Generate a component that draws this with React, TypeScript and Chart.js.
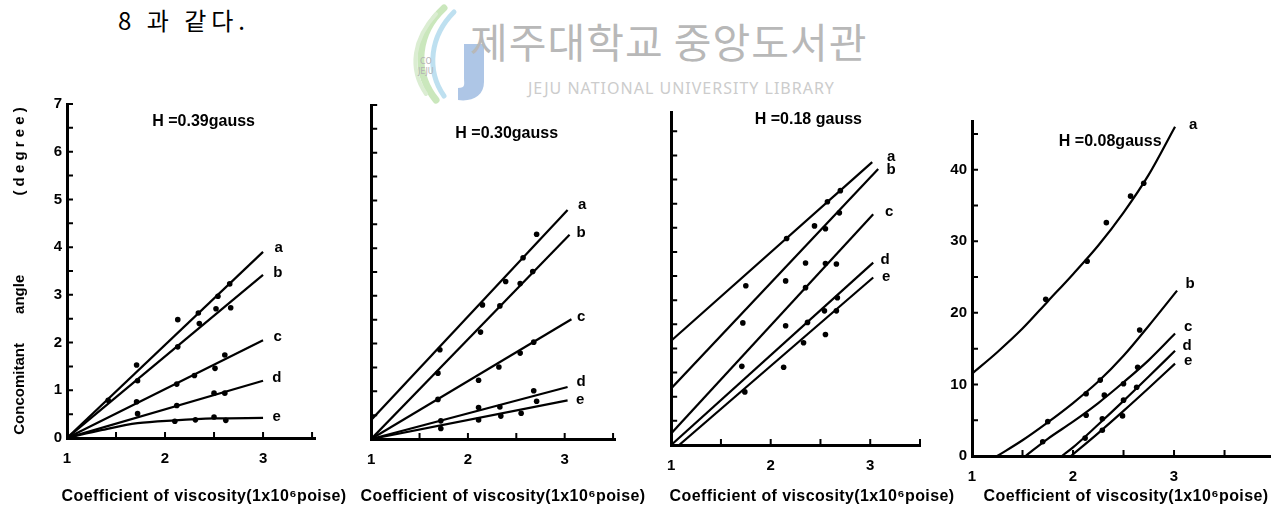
import React, { useEffect, useRef } from 'react';
import { Chart, registerables } from 'chart.js';

Chart.register(...registerables);

type Pt = [number, number];

const FONT = '"Liberation Sans", Arial, Helvetica, sans-serif';

const seriesNames = ['a', 'b', 'c', 'd', 'e'];
const xLabelValues = [1, 2, 3];
const xCaption = 'Coefficient of viscosity(1x10⁶poise)';
const yCaption = 'Concomitant' + ' '.repeat(7) + 'angle' + ' '.repeat(19) + '( d e g r e e )';
const headerText = '8 과 같다.';
const watermarkKo = '제주대학교 중앙도서관';
const watermarkEn = 'JEJU NATIONAL UNIVERSITY LIBRARY';

// ---------- H = 0.39 gauss ----------
const h039Note = 'H =0.39gauss';
const h039PtsA: Pt[] = [[1.42, 0.79], [1.71, 1.53], [2.13, 2.48], [2.34, 2.62], [2.54, 2.97], [2.66, 3.23]];
const h039PtsB: Pt[] = [[1.72, 1.2], [2.13, 1.91], [2.35, 2.4], [2.52, 2.71], [2.67, 2.73]];
const h039PtsC: Pt[] = [[1.71, 0.76], [2.12, 1.13], [2.3, 1.31], [2.51, 1.46], [2.61, 1.74]];
const h039PtsD: Pt[] = [[1.72, 0.51], [2.12, 0.68], [2.5, 0.94], [2.61, 0.94]];
const h039PtsE: Pt[] = [[2.1, 0.35], [2.31, 0.38], [2.5, 0.44], [2.62, 0.37]];
const h039FitA: Pt[] = [[1, 0], [3, 3.9]];
const h039FitB: Pt[] = [[1, 0], [3, 3.42]];
const h039FitC: Pt[] = [[1, 0], [3, 2.05]];
const h039FitD: Pt[] = [[1, 0], [3, 1.2]];
const h039FitE: Pt[] = [[1, 0], [1.36, 0.17], [1.72, 0.31], [2.1, 0.37], [2.5, 0.41], [3, 0.42]];
const h039LabelX = [3.16, 3.15, 3.15, 3.14, 3.14];
const h039LabelY = [3.98, 3.47, 2.13, 1.25, 0.45];

// ---------- H = 0.30 gauss ----------
const h030Note = 'H =0.30gauss';
const h030PtsA: Pt[] = [[1.71, 1.87], [2.15, 2.81], [2.39, 3.3], [2.57, 3.8], [2.71, 4.29]];
const h030PtsB: Pt[] = [[1.69, 1.38], [2.13, 2.24], [2.33, 2.79], [2.54, 3.26], [2.67, 3.51]];
const h030PtsC: Pt[] = [[1.69, 0.83], [2.11, 1.23], [2.32, 1.51], [2.54, 1.8], [2.68, 2.03]];
const h030PtsD: Pt[] = [[1.72, 0.38], [2.11, 0.66], [2.33, 0.67], [2.68, 1.01]];
const h030PtsE: Pt[] = [[1.72, 0.22], [2.11, 0.4], [2.34, 0.48], [2.55, 0.54], [2.71, 0.79]];
const h030FitA: Pt[] = [[1, 0.4], [3.03, 4.8]];
const h030FitB: Pt[] = [[1, 0], [3.05, 4.28]];
const h030FitC: Pt[] = [[1, 0], [3.07, 2.51]];
const h030FitD: Pt[] = [[1, 0], [3.03, 1.09]];
const h030FitE: Pt[] = [[1, 0], [3.03, 0.81]];
const h030LabelX = [3.18, 3.17, 3.17, 3.17, 3.16];
const h030LabelY = [4.9, 4.32, 2.56, 1.19, 0.81];

// ---------- H = 0.18 gauss ----------
const h018Note = 'H =0.18 gauss';
const h018PtsA: Pt[] = [[1.75, 3.3], [2.16, 4.28], [2.44, 4.54], [2.57, 5.04], [2.7, 5.27]];
const h018PtsB: Pt[] = [[1.72, 2.53], [2.15, 3.4], [2.35, 3.77], [2.55, 4.48], [2.69, 4.81]];
const h018PtsC: Pt[] = [[1.71, 1.63], [2.15, 2.47], [2.35, 3.26], [2.55, 3.76], [2.66, 3.75]];
const h018PtsD: Pt[] = [[2.37, 2.54], [2.54, 2.78], [2.67, 3.05]];
const h018PtsE: Pt[] = [[1.74, 1.1], [2.13, 1.61], [2.33, 2.12], [2.55, 2.29], [2.66, 2.78]];
const h018FitA: Pt[] = [[1, 2.16], [3.02, 5.86]];
const h018FitB: Pt[] = [[1, 1.17], [3.08, 5.72]];
const h018FitC: Pt[] = [[1, 0.24], [3.03, 4.78]];
const h018FitD: Pt[] = [[1, 0], [3.03, 3.78]];
const h018FitE: Pt[] = [[1.08, 0], [3.03, 3.47]];
const h018LabelX = [3.21, 3.21, 3.19, 3.15, 3.16];
const h018LabelY = [5.98, 5.7, 4.83, 3.83, 3.48];

// ---------- H = 0.08 gauss ----------
const h008Note = 'H =0.08gauss';
const h008PtsA: Pt[] = [[1.73, 21.9], [2.14, 27.2], [2.33, 32.6], [2.57, 36.3], [2.7, 38.1]];
const h008PtsB: Pt[] = [[1.75, 4.8], [2.13, 8.7], [2.27, 10.6], [2.66, 17.6]];
const h008PtsC: Pt[] = [[1.7, 2.0], [2.13, 5.7], [2.31, 8.5], [2.5, 10.1], [2.64, 12.4]];
const h008PtsD: Pt[] = [[2.12, 2.5], [2.29, 5.2], [2.5, 7.8], [2.63, 9.6]];
const h008PtsE: Pt[] = [[2.29, 3.6], [2.49, 5.6]];
const h008FitA: Pt[] = [[1, 11.5], [1.25, 14.5], [1.5, 17.8], [1.75, 21.6], [2.0, 25.4], [2.25, 29.4], [2.5, 34.0], [2.75, 39.3], [3.01, 46.0]];
const h008FitB: Pt[] = [[1.25, 0], [1.5, 2.2], [1.75, 4.7], [2.0, 7.4], [2.25, 10.4], [2.5, 14.0], [2.75, 18.2], [3.03, 23.1]];
const h008FitC: Pt[] = [[1.53, 0], [1.75, 2.4], [2.0, 4.8], [2.25, 7.4], [2.5, 10.3], [2.75, 13.4], [3.01, 17.1]];
const h008FitD: Pt[] = [[1.89, 0], [2.0, 1.2], [2.25, 4.4], [2.5, 7.7], [2.75, 11.1], [3.01, 14.7]];
const h008FitE: Pt[] = [[1.98, 0], [2.25, 3.2], [2.5, 6.3], [2.75, 9.5], [3.01, 12.9]];
const h008LabelX = [3.19, 3.16, 3.14, 3.13, 3.14];
const h008LabelY = [46.3, 24, 18, 15.4, 13.3];

interface PanelCfg {
  note: string;
  noteX: number;
  noteY: number;
  pts: Pt[][];
  fits: Pt[][];
  curved: boolean;
  labelX: number[];
  labelY: number[];
  xMax: number;
  yMax: number;
  yStep: number;
  yLabelEvery: number; // 0 = no labels
  yTitle: string | null;
  box: { left: number; top: number; right: number; bottom: number };
  yw: number;
  xh: number;
  padTop: number;
  padRight: number;
  captionX: number;
  captionY: number;
}

const panels: PanelCfg[] = [
  {
    note: h039Note, noteX: 1.87, noteY: 6.63,
    pts: [h039PtsA, h039PtsB, h039PtsC, h039PtsD, h039PtsE],
    fits: [h039FitA, h039FitB, h039FitC, h039FitD, h039FitE],
    curved: true,
    labelX: h039LabelX, labelY: h039LabelY,
    xMax: 3.53, yMax: 7, yStep: 0.5, yLabelEvery: 1, yTitle: yCaption,
    box: { left: 67, top: 102, right: 315, bottom: 438 },
    yw: 67, xh: 75, padTop: 12, padRight: 35, captionX: 204, captionY: 497,
  },
  {
    note: h030Note, noteX: 1.87, noteY: 6.4,
    pts: [h030PtsA, h030PtsB, h030PtsC, h030PtsD, h030PtsE],
    fits: [h030FitA, h030FitB, h030FitC, h030FitD, h030FitE],
    curved: false,
    labelX: h030LabelX, labelY: h030LabelY,
    xMax: 3.52, yMax: 7, yStep: 0.5, yLabelEvery: 0, yTitle: null,
    box: { left: 367, top: 103, right: 615, bottom: 439 },
    yw: 12, xh: 75, padTop: 12, padRight: 35, captionX: 503, captionY: 497,
  },
  {
    note: h018Note, noteX: 1.84, noteY: 6.74,
    pts: [h018PtsA, h018PtsB, h018PtsC, h018PtsD, h018PtsE],
    fits: [h018FitA, h018FitB, h018FitC, h018FitD, h018FitE],
    curved: false,
    labelX: h018LabelX, labelY: h018LabelY,
    xMax: 3.5, yMax: 6.9, yStep: 0.5, yLabelEvery: 0, yTitle: null,
    box: { left: 667, top: 110, right: 920, bottom: 445 },
    yw: 12, xh: 64, padTop: 12, padRight: 36, captionX: 812, captionY: 497,
  },
  {
    note: h008Note, noteX: 1.86, noteY: 43.9,
    pts: [h008PtsA, h008PtsB, h008PtsC, h008PtsD, h008PtsE],
    fits: [h008FitA, h008FitB, h008FitC, h008FitD, h008FitE],
    curved: true,
    labelX: h008LabelX, labelY: h008LabelY,
    xMax: 3.95, yMax: 46.8, yStep: 5, yLabelEvery: 10, yTitle: null,
    box: { left: 972, top: 119, right: 1271, bottom: 456 },
    yw: 36, xh: 54, padTop: 12, padRight: 3, captionX: 1126, captionY: 497,
  },
];

const decorPlugin = {
  id: 'decor',
  afterDraw(chart: any, _args: any, o: any) {
    const ctx: CanvasRenderingContext2D = chart.ctx;
    const xs = chart.scales.x;
    const ys = chart.scales.y;
    ctx.save();
    ctx.strokeStyle = '#000';
    ctx.lineWidth = 2;
    ctx.beginPath();
    xs.ticks.forEach((t: any) => {
      if (t.value <= xs.min + 1e-9) return;
      const px = xs.getPixelForValue(t.value);
      ctx.moveTo(px, xs.top);
      ctx.lineTo(px, xs.top - 6);
    });
    ys.ticks.forEach((t: any) => {
      if (t.value <= ys.min + 1e-9) return;
      const py = ys.getPixelForValue(t.value);
      ctx.moveTo(ys.right, py);
      ctx.lineTo(ys.right + 6, py);
    });
    ctx.stroke();

    ctx.fillStyle = '#000';
    ctx.textBaseline = 'middle';
    ctx.textAlign = 'center';
    ctx.font = `bold 15px ${FONT}`;
    const names: string[] = o.names;
    for (let i = 0; i < names.length; i++) {
      ctx.fillText(names[i], xs.getPixelForValue(o.labelX[i]), ys.getPixelForValue(o.labelY[i]));
    }
    ctx.textAlign = 'left';
    ctx.font = `bold 16px ${FONT}`;
    ctx.fillText(o.note, xs.getPixelForValue(o.noteX), ys.getPixelForValue(o.noteY));

    ctx.textAlign = 'center';
    ctx.font = `bold 16px ${FONT}`;
    (ctx as any).letterSpacing = '0.4px';
    ctx.fillText(o.caption, o.captionX, o.captionY);
    (ctx as any).letterSpacing = '0px';
    ctx.restore();
  },
};

function Panel({ cfg }: { cfg: PanelCfg }) {
  const ref = useRef<HTMLCanvasElement>(null);
  const { box, yw, xh, padTop, padRight } = cfg;
  const left = box.left - yw;
  const top = box.top - padTop;
  const width = box.right - box.left + yw + padRight;
  const height = box.bottom - box.top + padTop + xh;

  useEffect(() => {
    const tickFont = { family: FONT, size: 15, weight: 'bold' as const };
    const datasets: any[] = [];
    cfg.fits.forEach((f) => {
      datasets.push({
        type: 'line',
        data: f.map(([x, y]) => ({ x, y })),
        borderColor: '#000',
        borderWidth: 2.2,
        pointRadius: 0,
        fill: false,
        tension: cfg.curved && f.length > 2 ? 0.4 : 0,
        cubicInterpolationMode: cfg.curved && f.length > 2 ? 'monotone' : 'default',
      });
    });
    cfg.pts.forEach((p) => {
      datasets.push({
        type: 'scatter',
        data: p.map(([x, y]) => ({ x, y })),
        backgroundColor: '#000',
        borderColor: '#000',
        pointRadius: 2.8,
        pointBorderWidth: 0,
        showLine: false,
      });
    });

    const chart = new Chart(ref.current as HTMLCanvasElement, {
      type: 'line',
      data: { datasets },
      plugins: [decorPlugin as any],
      options: {
        responsive: false,
        maintainAspectRatio: false,
        animation: false,
        devicePixelRatio: 1,
        events: [],
        layout: { padding: { top: padTop, right: padRight, left: 0, bottom: 0 } },
        plugins: {
          legend: { display: false },
          tooltip: { enabled: false },
          title: { display: false },
          decor: {
            names: seriesNames,
            labelX: cfg.labelX,
            labelY: cfg.labelY,
            note: cfg.note,
            noteX: cfg.noteX,
            noteY: cfg.noteY,
            caption: xCaption,
            captionX: cfg.captionX - left,
            captionY: cfg.captionY - top,
          },
        } as any,
        scales: {
          x: {
            type: 'linear',
            min: 1,
            max: cfg.xMax,
            afterFit: (s: any) => { s.height = xh; },
            grid: { display: false, drawTicks: false },
            border: { display: true, color: '#000', width: 3 },
            ticks: {
              stepSize: 0.5,
              includeBounds: false,
              autoSkip: false,
              maxRotation: 0,
              padding: 12,
              color: '#000',
              font: tickFont,
              callback: (v: any) => (xLabelValues.some((t) => Math.abs(t - v) < 1e-6) ? String(Math.round(v)) : ''),
            },
          },
          y: {
            type: 'linear',
            min: 0,
            max: cfg.yMax,
            afterFit: (s: any) => { s.width = yw; },
            grid: { display: false, drawTicks: false },
            border: { display: true, color: '#000', width: 3 },
            title: cfg.yTitle
              ? { display: true, text: cfg.yTitle, color: '#000', font: { family: FONT, size: 15, weight: 'bold' }, padding: { top: 11, bottom: 0 } }
              : { display: false },
            ticks: {
              stepSize: cfg.yStep,
              includeBounds: false,
              autoSkip: false,
              padding: 5,
              color: '#000',
              font: tickFont,
              callback: (v: any) => {
                if (!cfg.yLabelEvery) return '';
                const r = v / cfg.yLabelEvery;
                return Math.abs(r - Math.round(r)) < 1e-6 ? String(Math.round(v)) : '';
              },
            },
          },
        },
      } as any,
    });
    return () => chart.destroy();
  }, []);

  return (
    <canvas
      ref={ref}
      width={width}
      height={height}
      style={{ position: 'absolute', left, top, width, height }}
    />
  );
}

function Watermark() {
  return (
    <>
      <svg
        width={100}
        height={100}
        style={{ position: 'absolute', left: 392, top: 4, opacity: 0.75 }}
        viewBox="0 0 100 100"
      >
        <path d="M52 4 C26 28 20 66 44 96" stroke="#b9dfa6" strokeWidth={7} fill="none" strokeLinecap="round" />
        <path d="M62 8 C38 32 34 66 52 92" stroke="#a9d6ec" strokeWidth={5} fill="none" strokeLinecap="round" />
        <path d="M44 10 C22 34 16 64 34 90" stroke="#cfe8c4" strokeWidth={4} fill="none" strokeLinecap="round" />
        <path d="M72 40 L92 40 L92 78 C92 92 80 98 66 96 L66 84 C74 84 72 80 72 74 Z" fill="#93b4de" />
        <text x={28} y={60} fontSize={8} fill="#9a9a9a" fontFamily="DejaVu Sans">CO</text>
        <text x={26} y={70} fontSize={8} fill="#9a9a9a" fontFamily="DejaVu Sans">JEJU</text>
      </svg>
      <div
        style={{
          position: 'absolute', left: 470, top: 14, fontSize: 41, lineHeight: '52px',
          fontFamily: '"Noto Sans CJK KR", sans-serif', color: '#b8b8b8', whiteSpace: 'pre', letterSpacing: 1,
        }}
      >
        {watermarkKo}
      </div>
      <div
        style={{
          position: 'absolute', left: 528, top: 78, fontSize: 16, lineHeight: '20px',
          fontFamily: '"Noto Sans", "DejaVu Sans", sans-serif', color: '#cccccc', whiteSpace: 'pre', letterSpacing: 1,
        }}
      >
        {watermarkEn}
      </div>
    </>
  );
}

export default function App() {
  return (
    <div style={{ position: 'absolute', left: 0, top: 0, width: 1274, height: 529, background: '#fff', overflow: 'hidden' }}>
      <div
        style={{
          position: 'absolute', left: 118, top: 4, fontSize: 24, lineHeight: '32px',
          fontFamily: '"Noto Sans CJK KR", serif', color: '#000', whiteSpace: 'pre', letterSpacing: 5,
        }}
      >
        {headerText}
      </div>
      <Watermark />
      {panels.map((p, i) => (
        <Panel key={i} cfg={p} />
      ))}
    </div>
  );
}
